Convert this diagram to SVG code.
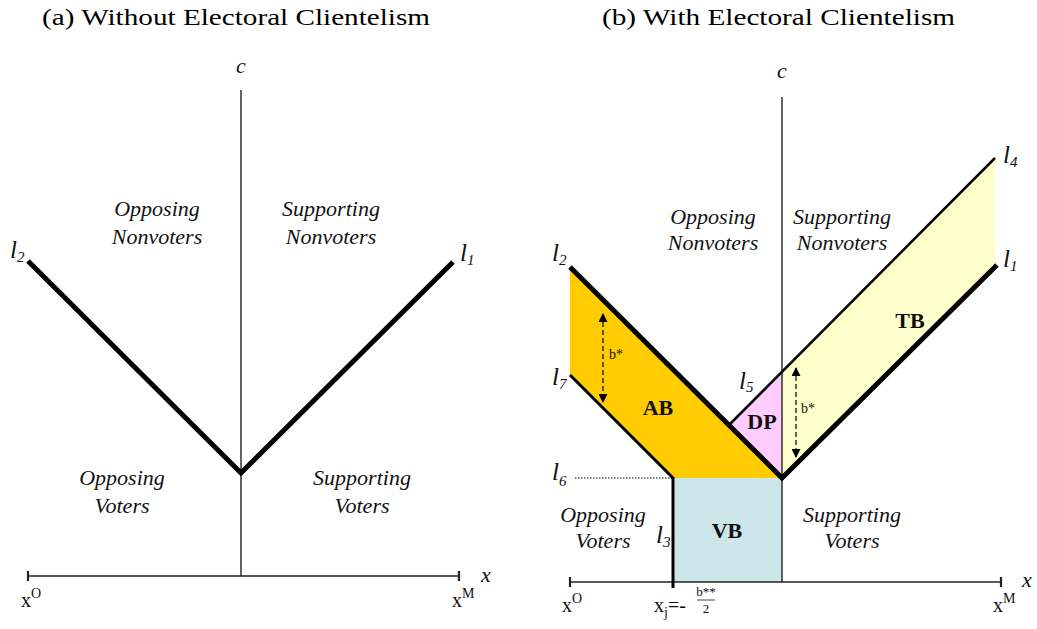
<svg xmlns="http://www.w3.org/2000/svg" width="1037" height="629" viewBox="0 0 1037 629">
<style>
.title{font-family:"Liberation Serif","DejaVu Serif",serif;font-size:24px;fill:#000}
.it{font-family:"Liberation Serif",serif;font-style:italic;font-size:22px;fill:#111;text-anchor:middle}
.lab{font-family:"Liberation Serif",serif;font-style:italic;font-size:25px;fill:#111}
.sub{font-size:15px}
.bold{font-family:"Liberation Serif",serif;font-weight:bold;font-size:22px;fill:#111;text-anchor:middle}
.up{font-family:"Liberation Serif",serif;font-size:20px;fill:#111}
.sup{font-size:14px}
.small{font-family:"Liberation Serif",serif;font-size:14px;fill:#111}
.axis{stroke:#222;stroke-width:1.4;fill:none}
.tick{stroke:#222;stroke-width:2.2;fill:none}
.thick{stroke:#000;stroke-width:5;fill:none;stroke-linejoin:miter}
.med{stroke:#000;stroke-width:3;fill:none}
.arrow{stroke:#000;stroke-width:1.2;stroke-dasharray:5 3;fill:none}
</style>
<defs>
<marker id="ah" viewBox="0 0 10 10" refX="9" refY="5" markerWidth="9" markerHeight="9" markerUnits="userSpaceOnUse" orient="auto-start-reverse">
<path d="M0,0 L10,5 L0,10 z" fill="#000"/>
</marker>
</defs>

<text class="title" x="42" y="25" textLength="388" lengthAdjust="spacingAndGlyphs">(a) Without Electoral Clientelism</text>
<text class="title" x="602" y="25" textLength="353" lengthAdjust="spacingAndGlyphs">(b) With Electoral Clientelism</text>

<g id="panel-a">
<line class="axis" x1="241" y1="90" x2="241" y2="576"/>
<line class="axis" x1="28" y1="576" x2="459" y2="576"/>
<line class="tick" x1="28" y1="571" x2="28" y2="581"/>
<line class="tick" x1="459" y1="571" x2="459" y2="581"/>
<g id="a-l2-l1"><polyline class="thick" points="28,261 241,473 453,262"/></g>
<text class="lab" x="236" y="73" style="font-size:22px">c</text>
<text class="lab" x="481" y="582" style="font-size:22px">x</text>
<text class="lab" x="10" y="258">l<tspan class="sub" dy="4">2</tspan></text>
<text class="lab" x="460" y="261">l<tspan class="sub" dy="4">1</tspan></text>
<text class="it" x="157" y="216">Opposing</text>
<text class="it" x="157" y="244">Nonvoters</text>
<text class="it" x="331" y="216">Supporting</text>
<text class="it" x="331" y="244">Nonvoters</text>
<text class="it" x="122" y="485">Opposing</text>
<text class="it" x="122" y="513">Voters</text>
<text class="it" x="362" y="485">Supporting</text>
<text class="it" x="362" y="513">Voters</text>
<text class="up" x="21" y="607">x<tspan class="sup" dy="-9">O</tspan></text>
<text class="up" x="452" y="607">x<tspan class="sup" dy="-9">M</tspan></text>
</g>

<g id="panel-b">
<g id="AB"><polygon points="570,267 782,478 673,478 570,375" fill="#FFCC00"/><text class="bold" x="658" y="415">AB</text></g>
<g id="TB"><polygon points="782,372 995,158 995,265 782,478" fill="#FFFFCC"/><text class="bold" x="910" y="328">TB</text></g>
<g id="DP"><polygon points="729,425 782,372 782,478" fill="#FFCCFF"/><text class="bold" x="762" y="429">DP</text></g>
<g id="VB"><rect x="673" y="478" width="109" height="104" fill="#CCE6EA"/><text class="bold" x="727" y="538">VB</text></g>

<g id="connectors">
<line class="axis" x1="782" y1="97" x2="782" y2="582"/>
<line class="axis" x1="570" y1="582" x2="1001" y2="582"/>
<line class="tick" x1="570" y1="577" x2="570" y2="587"/>
<line class="tick" x1="1001" y1="577" x2="1001" y2="587"/>
<line x1="729" y1="425" x2="995" y2="158" stroke="#000" stroke-width="2.5"/>
<line class="med" x1="570" y1="375" x2="673" y2="478"/>
<line class="med" x1="673" y1="477" x2="673" y2="588"/>
<line x1="575" y1="478" x2="673" y2="478" stroke="#000" stroke-width="1" stroke-dasharray="1.5 1.5"/>
<polyline class="thick" points="570,267 782,478 997,265"/>
<line class="arrow" x1="603" y1="314" x2="603" y2="402" marker-start="url(#ah)" marker-end="url(#ah)"/>
<line class="arrow" x1="796" y1="368" x2="796" y2="457" marker-start="url(#ah)" marker-end="url(#ah)"/>
</g>

<text class="small" x="609" y="359">b*</text>
<text class="small" x="801" y="413">b*</text>
<text class="lab" x="777" y="78" style="font-size:22px">c</text>
<text class="lab" x="1022" y="587" style="font-size:22px">x</text>
<text class="lab" x="552" y="261">l<tspan class="sub" dy="4">2</tspan></text>
<text class="lab" x="552" y="385">l<tspan class="sub" dy="4">7</tspan></text>
<text class="lab" x="739" y="389">l<tspan class="sub" dy="3">5</tspan></text>
<text class="lab" x="552" y="480">l<tspan class="sub" dy="6">6</tspan></text>
<text class="lab" x="656" y="543">l<tspan class="sub" dy="4">3</tspan></text>
<text class="lab" x="1003" y="163">l<tspan class="sub" dy="4">4</tspan></text>
<text class="lab" x="1003" y="267">l<tspan class="sub" dy="4">1</tspan></text>
<text class="it" x="713" y="224">Opposing</text>
<text class="it" x="713" y="250">Nonvoters</text>
<text class="it" x="842" y="224">Supporting</text>
<text class="it" x="842" y="250">Nonvoters</text>
<text class="it" x="603" y="522">Opposing</text>
<text class="it" x="603" y="548">Voters</text>
<text class="it" x="852" y="522">Supporting</text>
<text class="it" x="852" y="548">Voters</text>
<text class="up" x="562" y="612">x<tspan class="sup" dy="-9">O</tspan></text>
<text class="up" x="993" y="612">x<tspan class="sup" dy="-9">M</tspan></text>
<g id="xj">
<text class="up" x="654" y="612">x<tspan class="sup" dy="5">j</tspan><tspan dy="-5">=-</tspan></text>
<text class="small" x="706" y="596" text-anchor="middle" style="font-size:13px">b**</text>
<line x1="697" y1="600" x2="715" y2="600" stroke="#111" stroke-width="0.8"/>
<text class="small" x="706" y="613" text-anchor="middle" style="font-size:13px">2</text>
</g>
</g>
</svg>
